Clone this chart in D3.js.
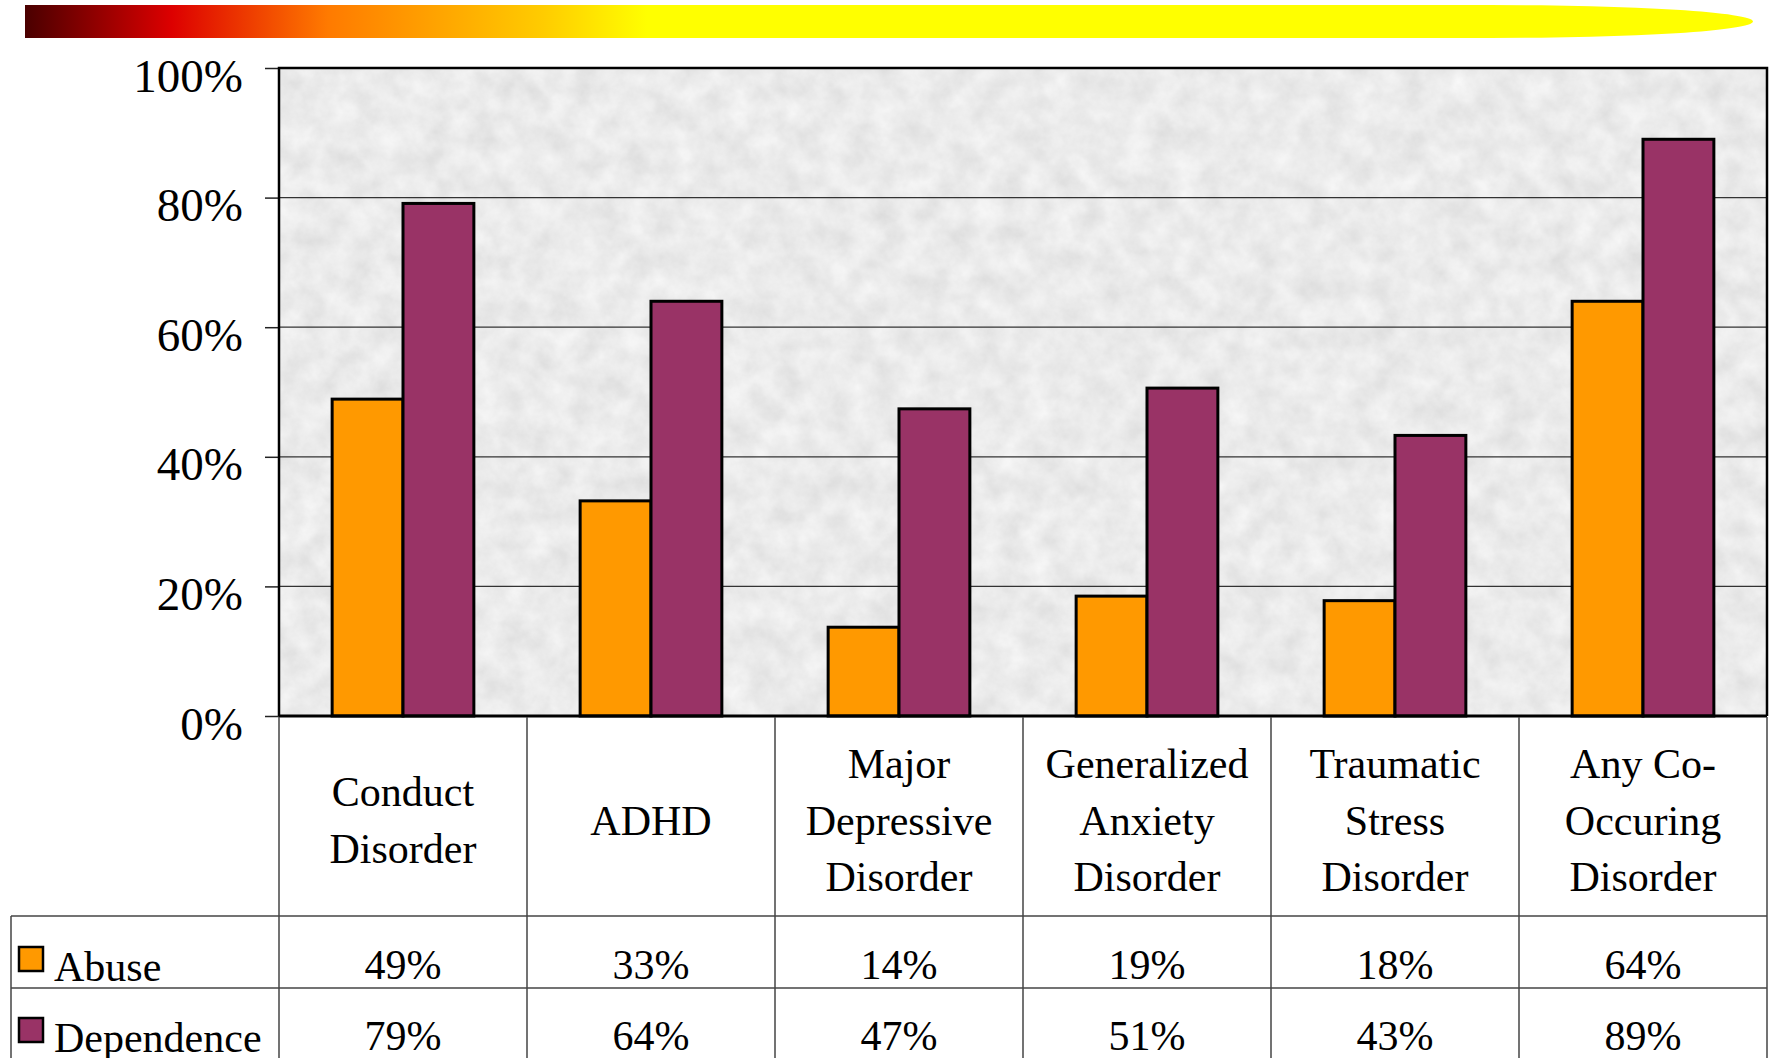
<!DOCTYPE html>
<html lang="en">
<head>
  <meta charset="utf-8">
  <title>Abuse and Dependence by Co-Occurring Disorder</title>
  <script src="https://d3js.org/d3.v7.min.js"></script>
  <style>
    body {
      margin: 0;
      background: #fff;
    }
    svg {
      display: block;
      font-family: 'Liberation Serif', 'Times New Roman', serif;
    }
    .grid line {
      stroke: #333;
      stroke-width: 1.2;
    }
    .bar {
      stroke: #000;
      stroke-width: 3;
    }
    .table-line {
      stroke: #444;
      stroke-width: 1.5;
    }
  </style>
</head>
<body>
  <div id="chart"></div>

  <script>
    // Chart data
    var categories = ["Conduct Disorder", "ADHD", "Major Depressive Disorder",
      "Generalized Anxiety Disorder", "Traumatic Stress Disorder", "Any Co-Occuring Disorder"];
    var categoryLines = [
      ["Conduct", "Disorder"],
      ["ADHD"],
      ["Major", "Depressive", "Disorder"],
      ["Generalized", "Anxiety", "Disorder"],
      ["Traumatic", "Stress", "Disorder"],
      ["Any Co-", "Occuring", "Disorder"]
    ];
    var seriesNames = ["Abuse", "Dependence"];
    var abuse = [0.489, 0.332, 0.137, 0.185, 0.178, 0.640];
    var dependence = [0.791, 0.640, 0.474, 0.506, 0.433, 0.890];
    var tickValues = [0, 0.2, 0.4, 0.6, 0.8, 1.0];

    var colors = { "Abuse": "#ff9900", "Dependence": "#993366" };

    var width = 1774, height = 1058;
    var plot = { left: 279, right: 1767, top: 68, bottom: 716 };

    var svg = d3.select("#chart")
      .append("svg")
      .attr("width", width)
      .attr("height", height);

    var defs = svg.append("defs");

    // Header gradient strip
    var grad = defs.append("linearGradient")
      .attr("id", "strip")
      .attr("x1", "0").attr("x2", "1").attr("y1", "0").attr("y2", "0");
    [[0, "#4a0000"], [0.085, "#dd0000"], [0.175, "#ff7a00"],
     [0.3, "#ffcc00"], [0.36, "#ffff00"], [1, "#ffff00"]].forEach(function(s) {
      grad.append("stop").attr("offset", s[0]).attr("stop-color", s[1]);
    });

    svg.append("path")
      .attr("d", "M25,5 H1490 A263,16.5 0 0 1 1490,38 H25 Z")
      .attr("fill", "url(#strip)");

    // Granite-like texture for the plot background
    var filter = defs.append("filter")
      .attr("id", "granite")
      .attr("x", 0).attr("y", 0).attr("width", 1).attr("height", 1);
    filter.append("feTurbulence")
      .attr("type", "fractalNoise")
      .attr("baseFrequency", "0.04")
      .attr("numOctaves", 5)
      .attr("seed", 7);
    filter.append("feColorMatrix")
      .attr("type", "matrix")
      .attr("values", "0.24 0 0 0 0.71  0.24 0 0 0 0.71  0.24 0 0 0 0.71  0 0 0 0 1");

    svg.append("rect")
      .attr("x", plot.left)
      .attr("y", plot.top)
      .attr("width", plot.right - plot.left)
      .attr("height", plot.bottom - plot.top)
      .attr("fill", "#d6d6d6")
      .attr("filter", "url(#granite)");

    // Scales
    var x0 = d3.scaleBand()
      .domain(categories)
      .range([plot.left, plot.right])
      .padding(0);

    var x1 = d3.scaleBand()
      .domain(seriesNames)
      .range([0, x0.bandwidth()])
      .paddingInner(0)
      .paddingOuter(0.75);

    var y = d3.scaleLinear()
      .domain([0, 1])
      .range([plot.bottom, plot.top]);

    // Gridlines
    svg.append("g")
      .attr("class", "grid")
      .selectAll("line")
      .data(tickValues.slice(1, -1))
      .enter()
      .append("line")
      .attr("x1", plot.left)
      .attr("x2", plot.right)
      .attr("y1", function(d) { return y(d); })
      .attr("y2", function(d) { return y(d); });

    // Y axis with ticks on the left
    var yAxis = svg.append("g")
      .attr("transform", "translate(" + plot.left + ",0)")
      .call(d3.axisLeft(y)
        .tickValues(tickValues)
        .tickFormat(d3.format(".0%"))
        .tickSize(14)
        .tickPadding(22));
    yAxis.select(".domain").remove();
    yAxis.selectAll(".tick line")
      .attr("stroke", "#222")
      .attr("stroke-width", 1.5);
    yAxis.selectAll(".tick text")
      .attr("font-family", "'Liberation Serif', 'Times New Roman', serif")
      .attr("font-size", 47)
      .attr("fill", "#000")
      .attr("dy", 23);

    // Bars
    var rows = categories.map(function(c, i) {
      return { category: c, values: [
        { series: "Abuse", value: abuse[i] },
        { series: "Dependence", value: dependence[i] }
      ] };
    });

    var groups = svg.append("g")
      .selectAll("g")
      .data(rows)
      .enter()
      .append("g")
      .attr("transform", function(d) { return "translate(" + x0(d.category) + ",0)"; });

    groups.selectAll("rect")
      .data(function(d) { return d.values; })
      .enter()
      .append("rect")
      .attr("class", "bar")
      .attr("x", function(d) { return x1(d.series); })
      .attr("y", function(d) { return y(d.value); })
      .attr("width", x1.bandwidth())
      .attr("height", function(d) { return y(0) - y(d.value); })
      .attr("fill", function(d) { return colors[d.series]; });

    // Plot frame
    svg.append("path")
      .attr("d", "M" + plot.left + "," + plot.bottom + " V" + plot.top + " H" + plot.right + " V" + plot.bottom)
      .attr("fill", "none")
      .attr("stroke", "#000")
      .attr("stroke-width", 2.5);
    svg.append("line")
      .attr("x1", plot.left).attr("x2", plot.right)
      .attr("y1", plot.bottom).attr("y2", plot.bottom)
      .attr("stroke", "#000")
      .attr("stroke-width", 3);

    // Data table under the chart
    var tableLeft = 11, headerBottom = 916, row1Bottom = 988;
    var edges = categories.map(function(c) { return x0(c); }).concat([plot.right]);

    svg.append("g")
      .selectAll("line")
      .data(edges)
      .enter()
      .append("line")
      .attr("class", "table-line")
      .attr("x1", function(d) { return d; })
      .attr("x2", function(d) { return d; })
      .attr("y1", plot.bottom + 1)
      .attr("y2", height);

    svg.append("line")
      .attr("class", "table-line")
      .attr("x1", tableLeft).attr("x2", tableLeft)
      .attr("y1", headerBottom).attr("y2", height);

    [headerBottom, row1Bottom].forEach(function(yy) {
      svg.append("line")
        .attr("class", "table-line")
        .attr("x1", tableLeft).attr("x2", plot.right)
        .attr("y1", yy).attr("y2", yy);
    });

    // Category labels
    var lineGap = 56.5, labelMid = 834.5;
    svg.append("g")
      .selectAll("text")
      .data(categories)
      .enter()
      .append("text")
      .attr("text-anchor", "middle")
      .attr("font-size", 42)
      .attr("fill", "#000")
      .each(function(c, i) {
        var lines = categoryLines[i];
        var t = d3.select(this);
        lines.forEach(function(l, j) {
          t.append("tspan")
            .attr("x", x0(c) + x0.bandwidth() / 2)
            .attr("y", labelMid + (j - (lines.length - 1) / 2) * lineGap)
            .text(l);
        });
      });

    // Value rows with legend keys
    var fmt = d3.format(".0%");
    var rowBaselines = [979, 1050];
    var keyTops = [947, 1018];
    [abuse, dependence].forEach(function(vals, r) {
      var name = seriesNames[r];
      svg.append("rect")
        .attr("x", 19)
        .attr("y", keyTops[r])
        .attr("width", 24)
        .attr("height", 24)
        .attr("fill", colors[name])
        .attr("stroke", "#000")
        .attr("stroke-width", 2.5);
      svg.append("text")
        .attr("x", 54)
        .attr("y", rowBaselines[r] + 2)
        .attr("font-size", 42)
        .text(name);
      svg.append("g")
        .selectAll("text")
        .data(vals)
        .enter()
        .append("text")
        .attr("x", function(d, i) { return x0(categories[i]) + x0.bandwidth() / 2; })
        .attr("y", rowBaselines[r])
        .attr("text-anchor", "middle")
        .attr("font-size", 42)
        .text(function(d) { return fmt(d); });
    });
  </script>
</body>
</html>
